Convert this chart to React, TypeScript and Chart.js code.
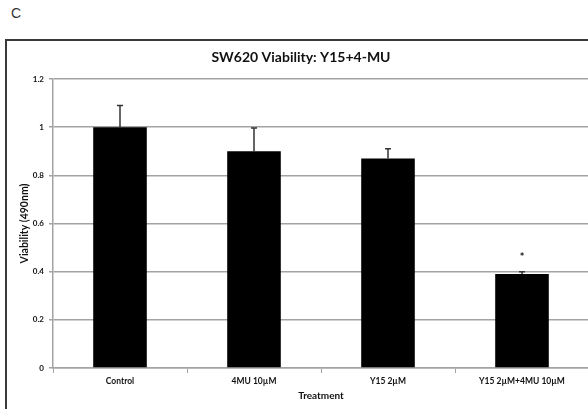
import React, { useEffect, useRef } from "react";
import { Chart, registerables } from "chart.js";

Chart.register(...registerables);

const categories = ["Control", "4MU 10\u00b5M", "Y15 2\u00b5M", "Y15 2\u00b5M+4MU 10\u00b5M"];
const viability = [1.0, 0.9, 0.87, 0.39];
const errors = [0.09, 0.097, 0.04, 0.01];
const marks = ["", "", "", "*"];
const chartTitle = "SW620 Viability: Y15+4-MU";
const yTitle = "Viability (490nm)";
const xTitle = "Treatment";
const panelLabel = "C";

const FONT = "Lato, 'Open Sans', sans-serif";
const GRID = "#a3a3a3";

const errPlugin = {
  id: "errbars",
  afterDatasetsDraw(chart: any) {
    const meta = chart.getDatasetMeta(0);
    const y = chart.scales.y;
    const ctx = chart.ctx;
    ctx.save();
    meta.data.forEach((bar: any, i: number) => {
      const base = y.getPixelForValue(viability[i]);
      const top = y.getPixelForValue(viability[i] + errors[i]);
      ctx.strokeStyle = "#333";
      ctx.lineWidth = 1.5;
      ctx.beginPath();
      ctx.moveTo(bar.x, base);
      ctx.lineTo(bar.x, top);
      ctx.moveTo(bar.x - 3, top);
      ctx.lineTo(bar.x + 3, top);
      ctx.stroke();
      if (marks[i]) {
        ctx.fillStyle = "#111";
        ctx.font = `bold 11px ${FONT}`;
        ctx.textAlign = "center";
        ctx.textBaseline = "middle";
        ctx.fillText(marks[i], bar.x, top - 14);
      }
    });
    ctx.restore();
  },
};

export default function App() {
  const ref = useRef<HTMLCanvasElement | null>(null);
  useEffect(() => {
    if (!ref.current) return;
    const chart = new Chart(ref.current, {
      type: "bar",
      data: {
        labels: categories,
        datasets: [
          {
            data: viability,
            backgroundColor: "#000",
            borderWidth: 0,
            barPercentage: 0.4,
            categoryPercentage: 1.0,
          },
        ],
      },
      options: {
        responsive: false,
        animation: false,
        devicePixelRatio: 1,
        layout: { padding: { top: 40, left: 13, right: 11, bottom: 0 } },
        plugins: {
          legend: { display: false },
          tooltip: { enabled: false },
          title: {
            display: true,
            text: chartTitle,
            color: "#111",
            font: { family: FONT, size: 14, weight: "bold", lineHeight: 1.2 },
            padding: { top: 9, bottom: 13.2 },
          },
        },
        scales: {
          x: {
            grid: {
              offset: true,
              drawOnChartArea: false,
              drawTicks: true,
              tickLength: 5,
              color: GRID,
              lineWidth: 1,
            },
            border: { display: true, color: GRID, width: 1.5 },
            ticks: {
              color: "#111",
              padding: 3,
              maxRotation: 0,
              autoSkip: false,
              font: { family: FONT, size: 8.5, weight: "bold" },
            },
            title: {
              display: true,
              text: xTitle,
              color: "#111",
              font: { family: FONT, size: 10, weight: "bold", lineHeight: 1.2 },
              padding: { top: 0, bottom: 18 },
            },
            afterFit: (s: any) => {
              s.height = 52;
            },
          },
          y: {
            min: 0,
            max: 1.2,
            ticks: {
              stepSize: 0.2,
              color: "#111",
              padding: 5,
              font: { family: FONT, size: 8, weight: "bold" },
              callback: (v: any) => String(Math.round(Number(v) * 10) / 10),
            },
            grid: {
              color: GRID,
              lineWidth: 1.5,
              drawTicks: true,
              tickLength: 4,
            },
            border: { display: true, color: GRID, width: 1.5 },
            title: {
              display: true,
              text: yTitle,
              color: "#111",
              font: { family: FONT, size: 10.5, weight: "bold", lineHeight: 1.2 },
              padding: { top: 5.7, bottom: 0 },
            },
            afterFit: (s: any) => {
              s.width = 40;
            },
          },
        },
      },
      plugins: [errPlugin],
    } as any);
    return () => chart.destroy();
  }, []);

  return (
    <div
      style={{
        position: "fixed",
        left: 0,
        top: 0,
        width: 588,
        height: 409,
        overflow: "hidden",
        background: "#fff",
      }}
    >
      <div
        style={{
          position: "absolute",
          left: 11,
          top: 5,
          fontFamily: "'Liberation Sans', Arial, sans-serif",
          fontSize: 14,
          color: "#333",
        }}
      >
        {panelLabel}
      </div>
      <div
        style={{
          position: "absolute",
          left: 5,
          top: 39,
          width: 700,
          height: 500,
          border: "2px solid #3a3a3a",
          boxSizing: "border-box",
        }}
      />
      <canvas
        ref={ref}
        width={600}
        height={420}
        style={{ position: "absolute", left: 0, top: 0, width: 600, height: 420 }}
      />
    </div>
  );
}
